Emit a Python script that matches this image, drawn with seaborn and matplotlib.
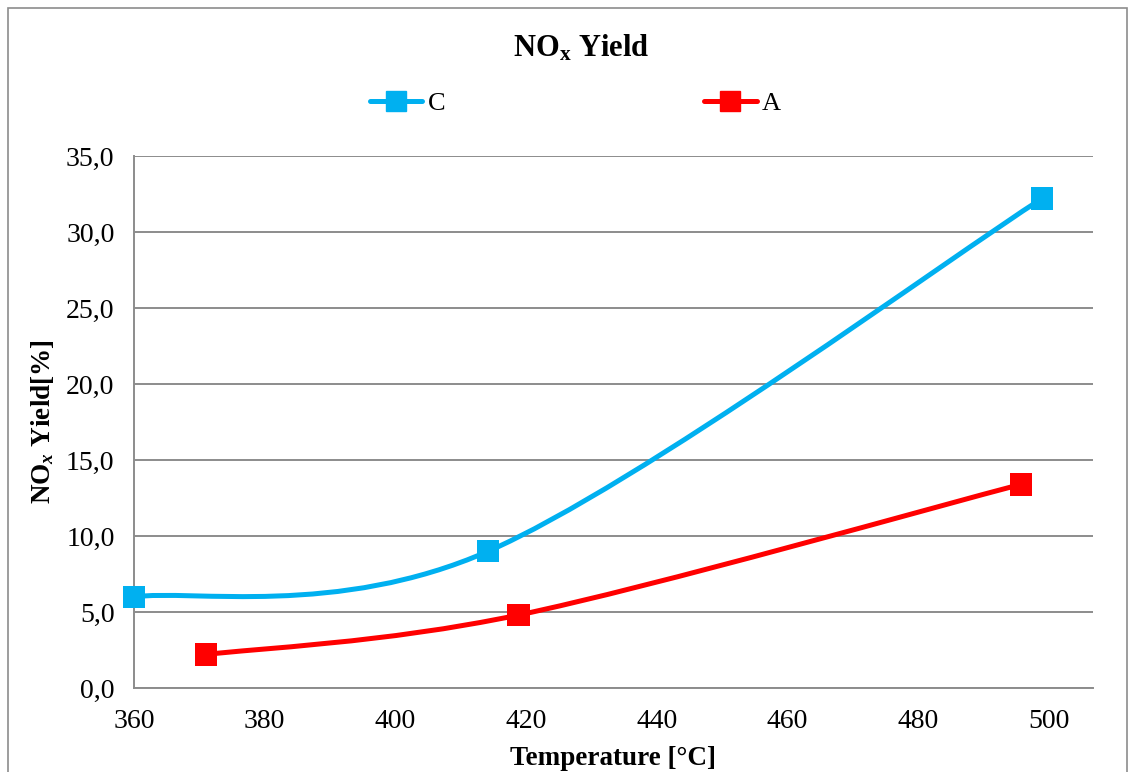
import numpy as np
import pandas as pd
import matplotlib
matplotlib.use("Agg")
import matplotlib.pyplot as plt
import seaborn as sns
from matplotlib.path import Path
from matplotlib.patches import PathPatch, Rectangle
from matplotlib.lines import Line2D
from matplotlib.ticker import FuncFormatter

# Données
temp_c = [360.0, 414.2, 498.9]
yield_c = [6.0, 9.0, 32.2]
temp_a = [371.0, 418.8, 495.7]
yield_a = [2.2, 4.8, 13.4]

series_names = ["C", "A"]
COULEURS = {"C": "#00B0F0", "A": "#FF0000"}
GRIS = "#8C8C8C"

sns.set_theme(style="white")
plt.rcParams["font.family"] = ["Liberation Serif", "DejaVu Serif"]
plt.rcParams["text.color"] = "black"
plt.rcParams["axes.labelcolor"] = "black"
plt.rcParams["mathtext.fontset"] = "custom"
plt.rcParams["mathtext.rm"] = "Liberation Serif:bold"
plt.rcParams["mathtext.bf"] = "Liberation Serif:bold"
plt.rcParams["mathtext.it"] = "Liberation Serif:bold:italic"

df = pd.concat([
    pd.DataFrame({"temp": temp_c, "yield": yield_c, "serie": "C"}),
    pd.DataFrame({"temp": temp_a, "yield": yield_a, "serie": "A"}),
])


def courbe_lissee(xs, ys):
    # lissage type Excel : segments de Bezier (Catmull-Rom)
    pts = np.column_stack([xs, ys])
    n = len(pts)
    verts = [pts[0]]
    codes = [Path.MOVETO]
    for i in range(n - 1):
        p_prev = pts[max(i - 1, 0)]
        p0, p1 = pts[i], pts[i + 1]
        p_next = pts[min(i + 2, n - 1)]
        c1 = p0 + (p1 - p_prev) / 6.0
        c2 = p1 - (p_next - p0) / 6.0
        verts += [c1, c2, p1]
        codes += [Path.CURVE4] * 3
    return Path(verts, codes)


fig = plt.figure(figsize=(11.28, 7.72), dpi=100)
ax = fig.add_axes([0.1188, 0.1088, 0.850, 0.689])

for nom, xs, ys in [("C", temp_c, yield_c), ("A", temp_a, yield_a)]:
    patch = PathPatch(courbe_lissee(xs, ys), facecolor="none",
                      edgecolor=COULEURS[nom], lw=3.6, capstyle="round",
                      joinstyle="round", zorder=3)
    ax.add_patch(patch)

sns.scatterplot(data=df, x="temp", y="yield", hue="serie", palette=COULEURS,
                marker="s", s=260, linewidth=0, legend=False, ax=ax, zorder=4,
                clip_on=False)

ax.set_xlim(360, 506.7)
ax.set_ylim(0, 35)
ax.set_xticks(np.arange(360, 501, 20))
ax.set_yticks(np.arange(0, 35.1, 5))
ax.yaxis.set_major_formatter(FuncFormatter(lambda v, p: f"{v:.1f}".replace(".", ",")))
ax.tick_params(axis="both", labelsize=20, length=0, colors="black")
ax.tick_params(axis="x", pad=15)
ax.tick_params(axis="y", pad=14)
ax.grid(axis="y", color=GRIS, lw=1.4)
ax.set_axisbelow(True)
for s in ["top", "right"]:
    ax.spines[s].set_visible(False)
for s in ["left", "bottom"]:
    ax.spines[s].set_color(GRIS)
    ax.spines[s].set_linewidth(1.4)

ax.set_xlabel("Temperature [°C]", fontsize=19.5, fontweight="bold", labelpad=9)
ax.set_ylabel(r"NO$_{\mathit{x}}$ Yield[%]", fontsize=19.5, fontweight="bold", labelpad=7)
fig.text(0.515, 0.937, r"NO$_{\mathbf{x}}$ Yield", fontsize=22, fontweight="bold",
         ha="center", va="center")

handles = [Line2D([0], [0], color=COULEURS[n], lw=3.6, marker="s", markersize=15,
                  solid_capstyle="round") for n in series_names]
fig.legend(handles, series_names, loc="center", bbox_to_anchor=(0.51, 0.866),
           ncol=2, frameon=False, fontsize=19, handlelength=2.0,
           handletextpad=0.2, columnspacing=9.8)

fig.add_artist(Rectangle((0.007, -0.01), 0.992, 0.999, transform=fig.transFigure,
                         fill=False, edgecolor=GRIS, lw=1.2))

plt.savefig("out.png", dpi=100)
plt.close()
